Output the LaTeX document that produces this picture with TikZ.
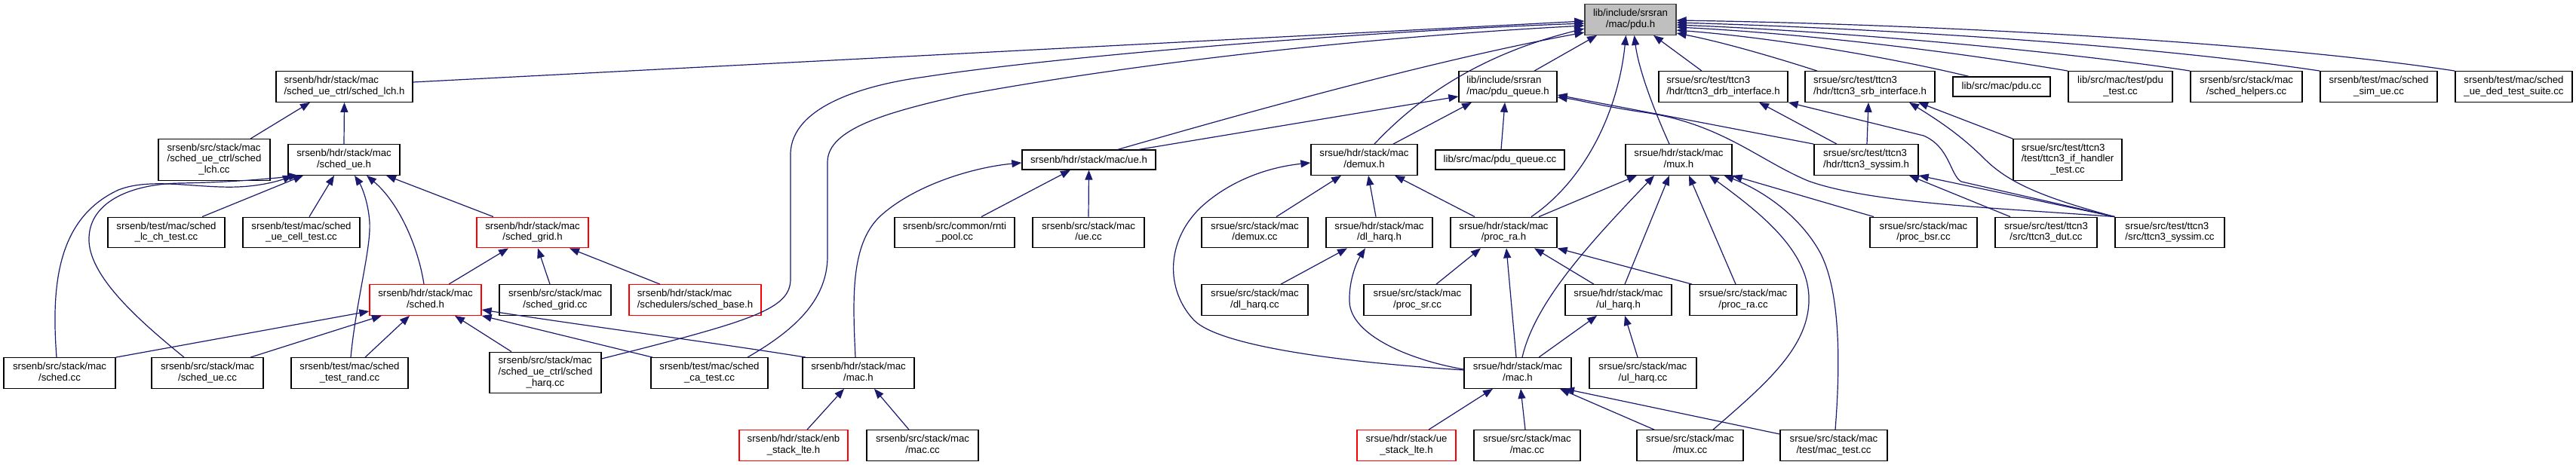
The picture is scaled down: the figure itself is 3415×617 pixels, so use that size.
\documentclass[tikz,border=0pt]{standalone}
\usepackage{fontspec}
\setmainfont{Liberation Sans}
\usetikzlibrary{arrows.meta}
\definecolor{edgec}{HTML}{191970}
\definecolor{redb}{HTML}{FF0000}
\definecolor{grayf}{HTML}{BFBFBF}
\newcommand\twoL[2]{\begin{tabular}{@{}l@{}}#1\\\multicolumn{1}{@{}c@{}}{#2}\end{tabular}}
\newcommand\threeL[3]{\begin{tabular}{@{}l@{}}#1\\#2\\\multicolumn{1}{@{}c@{}}{#3}\end{tabular}}
\begin{document}
\begin{tikzpicture}[x=1pt,y=-1pt,
  nd/.style={draw=black, line width=1.3pt, fill=white, inner sep=0pt, font=\fontsize{13.2}{14.6}\selectfont},
  rd/.style={nd, draw=redb},
  h1/.style={minimum height=26pt},
  h2/.style={minimum height=40.5pt},
  h3/.style={minimum height=54.5pt},
  edg/.style={draw=edgec, line width=1.2pt, -{Triangle[length=13pt,width=10pt]}}]
\fill[white] (0,0) rectangle (3415,617);
\useasboundingbox (0,0) rectangle (3415,617);
% row 0
\node[nd,h2,fill=grayf,draw=black!75,minimum width=121pt] (pdu) at (2161.5,26) {\twoL{lib/include/srsran}{/mac/pdu.h}};
% row 1
\node[nd,h2,minimum width=181pt] (lchh) at (456.5,115) {\twoL{srsenb/hdr/stack/mac}{/sched\_ue\_ctrl/sched\_lch.h}};
\node[nd,h2,minimum width=130pt] (pqh) at (1999,115) {\twoL{lib/include/srsran}{/mac/pdu\_queue.h}};
\node[nd,h2,minimum width=171pt] (drb) at (2284.5,115) {\twoL{srsue/src/test/ttcn3}{/hdr/ttcn3\_drb\_interface.h}};
\node[nd,h2,minimum width=172pt] (srb) at (2479,115) {\twoL{srsue/src/test/ttcn3}{/hdr/ttcn3\_srb\_interface.h}};
\node[nd,h1,minimum width=129pt] (pducc) at (2653.5,115) {lib/src/mac/pdu.cc};
\node[nd,h2,minimum width=138pt] (pdutest) at (2811,115) {\twoL{lib/src/mac/test/pdu}{\_test.cc}};
\node[nd,h2,minimum width=148pt] (helpers) at (2978,115) {\twoL{srsenb/src/stack/mac}{/sched\_helpers.cc}};
\node[nd,h2,minimum width=155pt] (simue) at (3153.5,115) {\twoL{srsenb/test/mac/sched}{\_sim\_ue.cc}};
\node[nd,h2,minimum width=155pt] (ued) at (3332.5,115) {\twoL{srsenb/test/mac/sched}{\_ue\_ded\_test\_suite.cc}};
% row 2
\node[nd,h3,minimum width=148pt] (lchcc) at (284,212) {\threeL{srsenb/src/stack/mac}{/sched\_ue\_ctrl/sched}{\_lch.cc}};
\node[nd,h2,minimum width=148pt] (ueh) at (456,212) {\twoL{srsenb/hdr/stack/mac}{/sched\_ue.h}};
\node[nd,h1,minimum width=177pt] (enbue) at (1443.5,212) {srsenb/hdr/stack/mac/ue.h};
\node[nd,h2,minimum width=141pt] (demuxh) at (1808.5,212) {\twoL{srsue/hdr/stack/mac}{/demux.h}};
\node[nd,h1,minimum width=171pt] (pqcc) at (1988.5,212) {lib/src/mac/pdu\_queue.cc};
\node[nd,h2,minimum width=141pt] (muxh) at (2225.5,212) {\twoL{srsue/hdr/stack/mac}{/mux.h}};
\node[nd,h2,minimum width=138pt] (sysimh) at (2474,212) {\twoL{srsue/src/test/ttcn3}{/hdr/ttcn3\_syssim.h}};
\node[nd,h3,minimum width=144pt] (ifh) at (2741,212) {\threeL{srsue/src/test/ttcn3}{/test/ttcn3\_if\_handler}{\_test.cc}};
% row 3
\node[nd,h2,minimum width=155pt] (lcch) at (220.5,308.5) {\twoL{srsenb/test/mac/sched}{\_lc\_ch\_test.cc}};
\node[nd,h2,minimum width=155pt] (cell) at (399.5,308.5) {\twoL{srsenb/test/mac/sched}{\_ue\_cell\_test.cc}};
\node[rd,h2,minimum width=148pt] (gridh) at (706,308.5) {\twoL{srsenb/hdr/stack/mac}{/sched\_grid.h}};
\node[nd,h2,minimum width=159pt] (rnti) at (1265.5,308.5) {\twoL{srsenb/src/common/rnti}{\_pool.cc}};
\node[nd,h2,minimum width=148pt] (uecc) at (1443,308.5) {\twoL{srsenb/src/stack/mac}{/ue.cc}};
\node[nd,h2,minimum width=141pt] (demuxcc) at (1663.5,308.5) {\twoL{srsue/src/stack/mac}{/demux.cc}};
\node[nd,h2,minimum width=141pt] (dlharqh) at (1828.5,308.5) {\twoL{srsue/hdr/stack/mac}{/dl\_harq.h}};
\node[nd,h2,minimum width=141pt] (procrah) at (1993.5,308.5) {\twoL{srsue/hdr/stack/mac}{/proc\_ra.h}};
\node[nd,h2,minimum width=142pt] (bsr) at (2550,308.5) {\twoL{srsue/src/stack/mac}{/proc\_bsr.cc}};
\node[nd,h2,minimum width=135pt] (dut) at (2712.5,308.5) {\twoL{srsue/src/test/ttcn3}{/src/ttcn3\_dut.cc}};
\node[nd,h2,minimum width=145pt] (syssimcc) at (2876.5,308.5) {\twoL{srsue/src/test/ttcn3}{/src/ttcn3\_syssim.cc}};
% row 4
\node[rd,h2,minimum width=148pt] (schedh) at (564,398) {\twoL{srsenb/hdr/stack/mac}{/sched.h}};
\node[nd,h2,minimum width=148pt] (gridcc) at (736,398) {\twoL{srsenb/src/stack/mac}{/sched\_grid.cc}};
\node[rd,h2,minimum width=175pt] (baseh) at (921.5,398) {\twoL{srsenb/hdr/stack/mac}{/schedulers/sched\_base.h}};
\node[nd,h2,minimum width=141pt] (dlharqcc) at (1663.5,398) {\twoL{srsue/src/stack/mac}{/dl\_harq.cc}};
\node[nd,h2,minimum width=142pt] (procsr) at (1879,398) {\twoL{srsue/src/stack/mac}{/proc\_sr.cc}};
\node[nd,h2,minimum width=141pt] (ulharqh) at (2145.5,398) {\twoL{srsue/hdr/stack/mac}{/ul\_harq.h}};
\node[nd,h2,minimum width=142pt] (procracc) at (2311,398) {\twoL{srsue/src/stack/mac}{/proc\_ra.cc}};
% row 5
\node[nd,h2,minimum width=148pt] (schedcc) at (79,495) {\twoL{srsenb/src/stack/mac}{/sched.cc}};
\node[nd,h2,minimum width=148pt] (scheduecc) at (275,495) {\twoL{srsenb/src/stack/mac}{/sched\_ue.cc}};
\node[nd,h2,minimum width=155pt] (rand) at (463.5,495) {\twoL{srsenb/test/mac/sched}{\_test\_rand.cc}};
\node[nd,h3,minimum width=148pt] (harqcc) at (723,494.5) {\threeL{srsenb/src/stack/mac}{/sched\_ue\_ctrl/sched}{\_harq.cc}};
\node[nd,h2,minimum width=155pt] (ca) at (940.5,495) {\twoL{srsenb/test/mac/sched}{\_ca\_test.cc}};
\node[nd,h2,minimum width=148pt] (enbmach) at (1138,495) {\twoL{srsenb/hdr/stack/mac}{/mac.h}};
\node[nd,h2,minimum width=142pt] (uemach) at (2012,495) {\twoL{srsue/hdr/stack/mac}{/mac.h}};
\node[nd,h2,minimum width=142pt] (ulharqcc) at (2178,495) {\twoL{srsue/src/stack/mac}{/ul\_harq.cc}};
% row 6
\node[rd,h2,minimum width=144pt] (enbstack) at (1052,591) {\twoL{srsenb/hdr/stack/enb}{\_stack\_lte.h}};
\node[nd,h2,minimum width=148pt] (enbmaccc) at (1223,591) {\twoL{srsenb/src/stack/mac}{/mac.cc}};
\node[rd,h2,minimum width=131pt] (uestack) at (1864.5,591) {\twoL{srsue/hdr/stack/ue}{\_stack\_lte.h}};
\node[nd,h2,minimum width=141pt] (uemaccc) at (2024.5,591) {\twoL{srsue/src/stack/mac}{/mac.cc}};
\node[nd,h2,minimum width=141pt] (muxcc) at (2240.5,591) {\twoL{srsue/src/stack/mac}{/mux.cc}};
\node[nd,h2,minimum width=142pt] (mactest) at (2431,591) {\twoL{srsue/src/stack/mac}{/test/mac\_test.cc}};

% ---- edges ----
% sched_lch.h
\draw[edg] ([xshift=48pt]lchcc.north) -- ([xshift=-45.5pt]lchh.south);
\draw[edg] (ueh.north) -- (lchh.south);
\draw[edg] ([yshift=6pt]lchh.east) -- ([yshift=-2pt]pdu.west);
% long curves to pdu.h
\draw[edg] ([yshift=18.5pt]harqcc.east) .. controls (1000,425) and (1048,410) .. (1048,370) -- (1048,205) .. controls (1048,140) and (1150,112) .. (1226,102) .. controls (1400,75) and (1800,42) .. ([yshift=-5pt]pdu.west);
\draw[edg] ([xshift=50.5pt]ca.north) .. controls (1050,440) and (1097,400) .. (1097,340) -- (1097,215) .. controls (1097,170) and (1180,148) .. (1277,126) .. controls (1500,85) and (1800,50) .. ([yshift=-8pt]pdu.west);
% srsenb ue.h
\draw[edg] ([xshift=-4pt]enbmach.north) .. controls (1130,390) and (1128,320) .. (1170,284) .. controls (1215,245) and (1290,222) .. ([yshift=-4pt]enbue.west);
\draw[edg] ([xshift=38.5pt]enbue.north) .. controls (1650,150) and (1900,80) .. ([yshift=-17pt]pdu.west);
\draw[edg] ([xshift=66.5pt]enbue.north) -- ([yshift=-13pt]pqh.west);
\draw[edg] ([xshift=35.5pt]rnti.north) -- ([xshift=-24.5pt]enbue.south);
\draw[edg] (uecc.north) -- (enbue.south);
% srsenb mac.h
\draw[edg] ([xshift=18pt]enbstack.north) -- ([xshift=-19pt]enbmach.south);
\draw[edg] ([xshift=-18pt]enbmaccc.north) -- ([xshift=21pt]enbmach.south);
% sched_ue.h
\draw[edg] ([xshift=-4pt]schedcc.north) .. controls (68,380) and (75,290) .. (157,252) .. controls (200,235) and (260,250) .. (315,248) .. controls (345,247) and (370,240) .. ([xshift=-68pt]ueh.south);
\draw[edg] ([xshift=-31pt]scheduecc.north) .. controls (190,430) and (120,370) .. (118,320) .. controls (116,270) and (170,244) .. (240,243) .. controls (300,242) and (350,238) .. ([xshift=-60pt]ueh.south);
\draw[edg] ([xshift=47.5pt]lcch.north) -- ([xshift=-54pt]ueh.south);
\draw[edg] ([xshift=10.5pt]cell.north) -- ([xshift=-13pt]ueh.south);
\draw[edg] ([xshift=1.5pt]rand.north) .. controls (472,400) and (492,330) .. (490,295) .. controls (488,265) and (478,245) .. ([xshift=14pt]ueh.south);
\draw[edg] ([xshift=-2pt]schedh.north) .. controls (555,330) and (530,270) .. ([xshift=30pt]ueh.south);
\draw[edg] ([xshift=-52pt]gridh.north) -- ([xshift=56pt]ueh.south);
% sched.h
\draw[edg] (schedcc.north east) -- ([yshift=-15pt]schedh.west);
\draw[edg] ([xshift=57pt]scheduecc.north) -- ([xshift=-58pt]schedh.south);
\draw[edg] ([xshift=20.5pt]rand.north) -- ([xshift=-21pt]schedh.south);
\draw[edg] ([xshift=-45pt]harqcc.north) -- ([xshift=39pt]schedh.south);
\draw[edg] ([xshift=-75.5pt]ca.north) -- (schedh.south east);
\draw[edg] ([xshift=-70pt]enbmach.north) .. controls (950,455) and (800,436) .. ([yshift=-13pt]schedh.east);
% sched_grid.h
\draw[edg] ([xshift=31pt]schedh.north) -- ([xshift=-32pt]gridh.south);
\draw[edg] ([xshift=-7pt]gridcc.north) -- ([xshift=7pt]gridh.south);
\draw[edg] ([xshift=-46.5pt]baseh.north) -- ([xshift=49pt]gridh.south);
% into pdu.h from below / right
\draw[edg] ([xshift=35pt]pqh.north) -- ([xshift=-44.5pt]pdu.south);
\draw[edg] ([xshift=13.5pt]demuxh.north) .. controls (1870,140) and (1950,75) .. ([yshift=-12pt]pdu.west);
\draw[edg] ([xshift=36.5pt]procrah.north) .. controls (2100,240) and (2145,150) .. ([xshift=-6pt]pdu.south);
\draw[edg] ([xshift=-12.5pt]muxh.north) .. controls (2190,140) and (2172,90) .. ([xshift=5pt]pdu.south);
\draw[edg] ([xshift=-28.5pt]drb.north) -- ([xshift=30.5pt]pdu.south);
\draw[edg] ([xshift=-70pt]srb.north) .. controls (2350,75) and (2280,55) .. ([yshift=-18pt]pdu.east);
\draw[edg] ([xshift=-43.5pt]pducc.north) .. controls (2500,75) and (2350,50) .. ([yshift=-14pt]pdu.east);
\draw[edg] (pdutest.north west) .. controls (2600,70) and (2400,45) .. ([yshift=-10pt]pdu.east);
\draw[edg] (helpers.north west) .. controls (2750,70) and (2450,42) .. ([yshift=-7pt]pdu.east);
\draw[edg] (simue.north west) .. controls (2850,60) and (2500,38) .. ([yshift=-4pt]pdu.east);
\draw[edg] (ued.north west) .. controls (3000,55) and (2550,32) .. ([yshift=-1pt]pdu.east);
% pdu_queue.h
\draw[edg] ([xshift=38.5pt]demuxh.north) -- ([xshift=-48pt]pqh.south);
\draw[edg] ([xshift=1.5pt]pqcc.north) -- ([xshift=-4pt]pqh.south);
\draw[edg] (sysimh.north west) -- ([yshift=-11pt]pqh.east);
\draw[edg] (syssimcc.north west) .. controls (2650,276) and (2480,270) .. (2397,240) .. controls (2330,212) and (2280,162) .. (2172,148) .. controls (2120,140) and (2090,132) .. ([yshift=-14pt]pqh.east);
% demux.h
\draw[edg] ([xshift=28.5pt]demuxcc.north) -- ([xshift=-30.5pt]demuxh.south);
\draw[edg] ([xshift=-4.5pt]dlharqh.north) -- ([xshift=5.5pt]demuxh.south);
\draw[edg] ([xshift=-38.5pt]procrah.north) -- ([xshift=40.5pt]demuxh.south);
\draw[edg] ([yshift=4pt]uemach.west) .. controls (1800,482) and (1620,462) .. (1583,425) .. controls (1545,385) and (1545,320) .. (1592,275) .. controls (1630,240) and (1680,222) .. ([yshift=-4pt]demuxh.west);
% dl_harq.h
\draw[edg] ([xshift=34.5pt]dlharqcc.north) -- ([xshift=-42.5pt]dlharqh.south);
\draw[edg] ([yshift=5pt]uemach.west) .. controls (1870,478) and (1790,445) .. (1789,400) .. controls (1788,370) and (1800,345) .. ([xshift=-18.5pt]dlharqh.south);
% proc_ra.h
\draw[edg] ([xshift=25pt]procsr.north) -- ([xshift=-30.5pt]procrah.south);
\draw[edg] ([xshift=-2pt]uemach.north) -- ([xshift=3.5pt]procrah.south);
\draw[edg] ([xshift=-32.5pt]ulharqh.north) -- ([xshift=40.5pt]procrah.south);
\draw[edg] ([xshift=-68pt]procracc.north) -- (procrah.south east);
% mux.h
\draw[edg] ([xshift=46.5pt]procrah.north) -- ([xshift=-55.5pt]muxh.south);
\draw[edg] ([xshift=6pt]uemach.north) .. controls (2035,400) and (2110,320) .. ([xshift=-32.5pt]muxh.south);
\draw[edg] ([xshift=8.5pt]ulharqh.north) -- ([xshift=-12.5pt]muxh.south);
\draw[edg] ([xshift=-10pt]procracc.north) -- ([xshift=13.5pt]muxh.south);
\draw[edg] ([xshift=30.5pt]muxcc.north) .. controls (2340,510) and (2400,460) .. (2398,394) .. controls (2396,330) and (2330,280) .. ([xshift=40.5pt]muxh.south);
\draw[edg] ([xshift=2pt]mactest.north) .. controls (2440,480) and (2440,380) .. (2410,330) .. controls (2380,280) and (2330,250) .. ([xshift=60pt]muxh.south);
\draw[edg] ([xshift=-66pt]bsr.north) -- (muxh.south east);
% ul_harq.h
\draw[edg] ([xshift=28pt]uemach.north) -- ([xshift=-28.5pt]ulharqh.south);
\draw[edg] ([xshift=-7pt]ulharqcc.north) -- ([xshift=8.5pt]ulharqh.south);
% srsue mac.h
\draw[edg] ([xshift=29.5pt]uestack.north) -- ([xshift=-33pt]uemach.south);
\draw[edg] ([xshift=-2.5pt]uemaccc.north) -- ([xshift=4pt]uemach.south);
\draw[edg] ([xshift=-47.5pt]muxcc.north) -- ([xshift=56pt]uemach.south);
\draw[edg] ([yshift=15pt]mactest.west) -- ([xshift=62pt]uemach.south);
% ttcn3
\draw[edg] ([xshift=-39pt]sysimh.north) -- ([xshift=47.5pt]drb.south);
\draw[edg] (syssimcc.north west) -- (2600,241) .. controls (2585,232) and (2585,195) .. (2550,180) -- (drb.south east);
\draw[edg] ([xshift=1pt]sysimh.north) -- ([xshift=-2pt]srb.south);
\draw[edg] (ifh.north west) -- ([xshift=64pt]srb.south);
\draw[edg] (syssimcc.north west) .. controls (2700,260) and (2660,240) .. (2630,210) .. controls (2600,180) and (2570,160) .. ([xshift=52pt]srb.south);
\draw[edg] ([xshift=-47.5pt]dut.north) -- ([xshift=57pt]sysimh.south);
\draw[edg] (syssimcc.north west) -- (sysimh.south east);
\end{tikzpicture}
\end{document}
